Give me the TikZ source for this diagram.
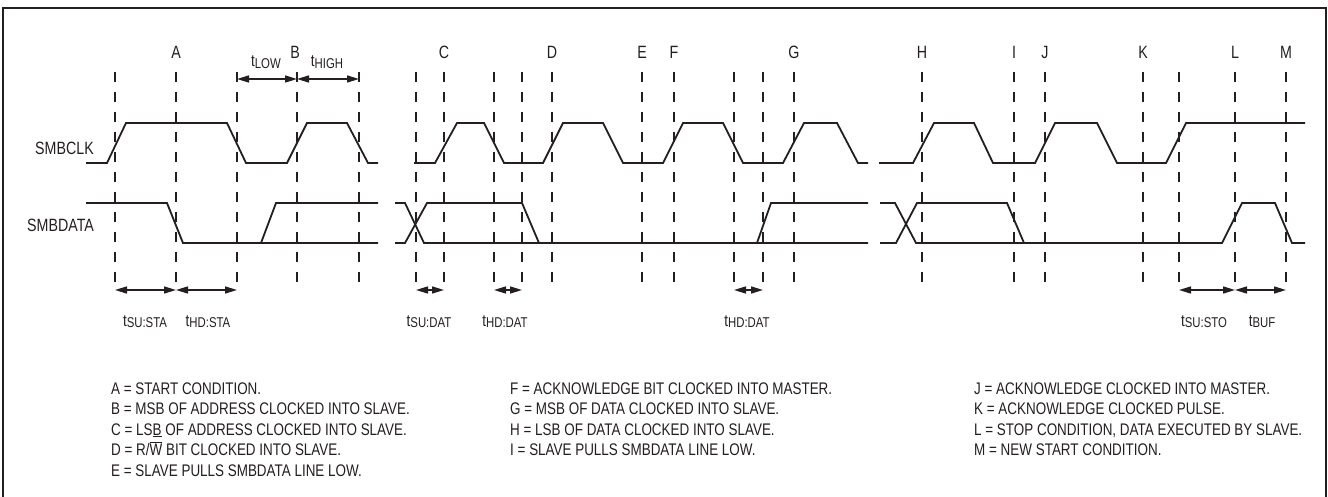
\documentclass[tikz,border=0pt]{standalone}
\usepackage{fontspec}
\setmainfont[FakeStretch=0.8]{Liberation Sans}
\usetikzlibrary{arrows.meta}
\definecolor{ink}{HTML}{231F20}
\newcommand\tsub[1]{t\raisebox{-1.5pt}{\fontsize{14.2}{14.2}\selectfont #1}}
\tikzset{
  sig/.style={draw=ink,line width=1.8pt,line join=miter},
  gridl/.style={draw=ink,line width=1.2pt,dash pattern=on 10pt off 10pt},
  dim/.style={draw=ink,line width=1.5pt,{Triangle[length=12pt,width=7pt]}-{Triangle[length=12pt,width=7pt]}},
  lab/.style={inner sep=0pt,text=ink,font=\fontsize{17.8}{17.8}\selectfont},
  tlab/.style={inner sep=0pt,text=ink,anchor=base,font=\fontsize{16.8}{16.8}\selectfont},
  leg/.style={inner sep=0pt,text=ink,anchor=base west,font=\fontsize{16.8}{16.8}\selectfont},
}
\begin{document}
\begin{tikzpicture}[x=1pt,y=-1pt]
\useasboundingbox (0,0) rectangle (1328,497);
% frame
\draw[ink,line width=2.5pt] (3,500) -- (3,8) -- (1326,8) -- (1326,500);
% dashed reference lines
\foreach \x [count=\i] in {115,176,237,297,359,416,444,494,522,552,642,674,734,763,794,922,1014,1045,1143,1179,1235,1286}{
  \coordinate (t\i) at (\x,72);
  \coordinate (b\i) at (\x,292);
  \coordinate (m\i) at (\x,290);
  \coordinate (u\i) at (\x,79);
  \draw[gridl] (t\i) -- (b\i);
}
% letters
\foreach \n/\x in {A/176,B/295,C/444,D/552,E/642,F/674,G/794,H/922,I/1014,J/1045,K/1143,L/1235,M/1286}{
  \node[lab,anchor=base] (let\n) at (\x,59) {\n};
}
% signal names
\node[lab,anchor=west] (clkname) at (35,148) {SMBCLK};
\node[lab,anchor=west] (dataname) at (27,225) {SMBDATA};
% SMBCLK
\draw[sig] (86,163)--(107,163)--(126,123)--(227,123)--(246,163)--(287,163)--(307,123)--(347,123)--(368,163)--(378,163);
\draw[sig] (414,163)--(435,163)--(457,123)--(484,123)--(504,163)--(543,163)--(563,123)--(603,123)--(623,163)--(663,163)--(683,123)--(723,123)--(743,163)--(783,163)--(804,123)--(837,123)--(858,163)--(868,163);
\draw[sig] (879,163)--(913,163)--(934,123)--(974,123)--(993,163)--(1035,163)--(1055,123)--(1097,123)--(1117,163)--(1166,163)--(1186,123)--(1305,123);
% SMBDATA
\draw[sig] (86,203)--(167,203)--(183,243)--(378,243);
\draw[sig] (261,243)--(276,203)--(378,203);
\draw[sig] (395,203)--(405,203)--(424,243)--(868,243);
\draw[sig] (395,243)--(405,243)--(427,203)--(522,203)--(539,243);
\draw[sig] (757,243)--(771,203)--(868,203);
\draw[sig] (880,203)--(895,203)--(916,243)--(1222,243)--(1242,203)--(1275,203)--(1292,243)--(1305,243);
\draw[sig] (880,243)--(896,243)--(917,203)--(1007,203)--(1024,243);
% timing arrows
\draw[dim] (u3) -- (u4);
\draw[dim] (u4) -- (u5);
\draw[dim] (m1) -- (m2);
\draw[dim] (m2) -- (m3);
\draw[dim] (m6) -- (m7);
\draw[dim] (m8) -- (m9);
\draw[dim] (m13) -- (m14);
\draw[dim] (m20) -- (m21);
\draw[dim] (m21) -- (m22);
% timing labels
\node[tlab] (tlow) at (266,67) {\tsub{LOW}};
\node[tlab] (thigh) at (327,67) {\tsub{HIGH}};
\node[tlab] (tsusta) at (145,326) {\tsub{SU:STA}};
\node[tlab] (thdsta) at (208,326) {\tsub{HD:STA}};
\node[tlab] (tsudat) at (429,326) {\tsub{SU:DAT}};
\node[tlab] (thddat) at (505,326) {\tsub{HD:DAT}};
\node[tlab] (thddatb) at (747,326) {\tsub{HD:DAT}};
\node[tlab] (tsusto) at (1204,326) {\tsub{SU:STO}};
\node[tlab] (tbuf) at (1262,326) {\tsub{BUF}};
% legend
\node[leg] (la) at (111,394) {A = START CONDITION.};
\node[leg] (lb) at (111,414.5) {B = MSB OF ADDRESS CLOCKED INTO SLAVE.};
\node[leg] (lc) at (111,435) {C = LS\underline{B} OF ADDRESS CLOCKED INTO SLAVE.};
\node[leg] (ld) at (111,455.5) {D = R/\ensuremath{\overline{\hbox{W}}} BIT CLOCKED INTO SLAVE.};
\node[leg] (le) at (111,476) {E = SLAVE PULLS SMBDATA LINE LOW.};
\node[leg] (lf) at (510,394) {F = ACKNOWLEDGE BIT CLOCKED INTO MASTER.};
\node[leg] (lg) at (510,414.5) {G = MSB OF DATA CLOCKED INTO SLAVE.};
\node[leg] (lh) at (510,435) {H = LSB OF DATA CLOCKED INTO SLAVE.};
\node[leg] (li) at (510,455.5) {I = SLAVE PULLS SMBDATA LINE LOW.};
\node[leg] (lj) at (974,394) {J = ACKNOWLEDGE CLOCKED INTO MASTER.};
\node[leg] (lk) at (974,414.5) {K = ACKNOWLEDGE CLOCKED PULSE.};
\node[leg] (ll) at (974,435) {L = STOP CONDITION, DATA EXECUTED BY SLAVE.};
\node[leg] (lm) at (974,455.5) {M = NEW START CONDITION.};
\end{tikzpicture}
\end{document}
